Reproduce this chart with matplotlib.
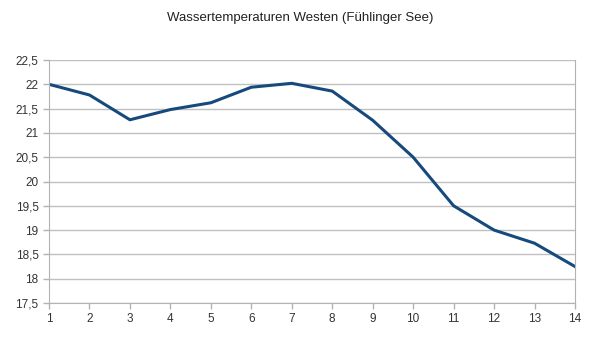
import matplotlib.pyplot as plt
import numpy as np

# Messpunkte und Temperaturen
days = list(range(1, 15))
temps = [22.0, 21.78, 21.27, 21.48, 21.62, 21.94, 22.02, 21.86,
         21.26, 20.5, 19.5, 19.0, 18.73, 18.25]
yticks = np.arange(17.5, 22.51, 0.5)
ytick_labels = [f"{v:g}".replace('.', ',') for v in yticks]

plt.rcParams['font.family'] = ['Liberation Sans', 'DejaVu Sans']

fig = plt.figure(figsize=(6, 3.42), dpi=100)
ax = fig.add_axes([49/600, 1 - 303/342, (575 - 49)/600, (303 - 60)/342])

ax.plot(days, temps, color='#174a7c', linewidth=2.2, solid_joinstyle='round')

ax.set_xlim(1, 14)
ax.set_ylim(17.5, 22.5)
ax.set_xticks(days)
ax.set_yticks(yticks)
ax.set_yticklabels(ytick_labels)

ax.grid(axis='y', color='#c0c0c0', linewidth=1)
ax.set_axisbelow(True)
for side in ['left', 'bottom', 'right']:
    ax.spines[side].set_color('#b3b3b3')
ax.spines['top'].set_visible(False)
ax.tick_params(colors='#b3b3b3', labelcolor='#333333', labelsize=8.5, length=4, width=1)

fig.text(0.5, 1 - 18/342, 'Wassertemperaturen Westen (Fühlinger See)',
         ha='center', va='center', fontsize=9.5, color='#222222')

fig.savefig('out.png', dpi=100)
